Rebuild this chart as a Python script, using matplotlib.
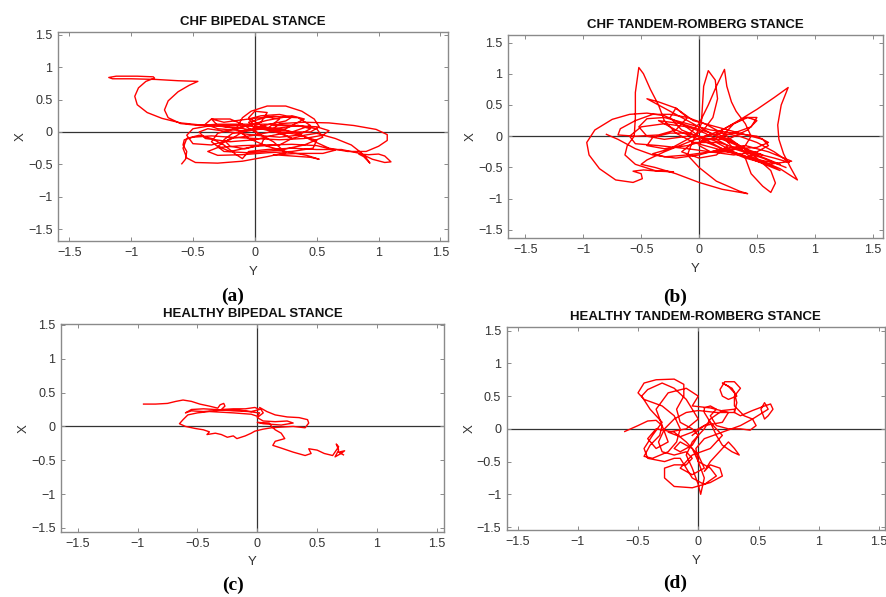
import numpy as np
import matplotlib
matplotlib.use("Agg")
import matplotlib.pyplot as plt

RED = "#ff0000"
BOX = "#8a8a8a"
TXT = "#333333"

titles = [
    "CHF BIPEDAL STANCE",
    "CHF TANDEM-ROMBERG STANCE",
    "HEALTHY BIPEDAL STANCE",
    "HEALTHY TANDEM-ROMBERG STANCE",
]
letters = ["a", "b", "c", "d"]
ticks = [-1.5, -1, -0.5, 0, 0.5, 1, 1.5]
tick_labels = ["\u22121.5", "\u22121", "\u22120.5", "0", "0.5", "1", "1.5"]

# stabilogram paths, columns: Y (horizontal), X (vertical)
chf_bipedal = np.array([
    [-0.59, -0.49], [-0.56, -0.42], [-0.55, -0.3], [-0.58, -0.2], [-0.57, -0.12],
    [-0.5, -0.08], [-0.35, -0.06], [-0.2, -0.08], [0.0, -0.1], [0.2, -0.12],
    [0.4, -0.1], [0.55, -0.05], [0.6, 0.02], [0.5, 0.08], [0.3, 0.1],
    [0.1, 0.12], [-0.1, 0.12], [-0.3, 0.12], [-0.45, 0.1], [-0.6, 0.13],
    [-0.7, 0.22], [-0.73, 0.34], [-0.7, 0.48], [-0.62, 0.62], [-0.53, 0.72],
    [-0.46, 0.78], [-0.62, 0.79], [-0.8, 0.81], [-1.0, 0.82], [-1.15, 0.82],
    [-1.18, 0.84], [-1.12, 0.86], [-0.95, 0.86], [-0.82, 0.85], [-0.81, 0.83],
    [-0.88, 0.78], [-0.94, 0.68], [-0.97, 0.55], [-0.95, 0.42], [-0.87, 0.3],
    [-0.75, 0.21], [-0.6, 0.14], [-0.45, 0.11], [-0.3, 0.09], [-0.15, 0.07],
    [0.0, 0.02], [0.08, -0.08], [0.05, -0.2], [-0.08, -0.26], [-0.2, -0.22],
    [-0.25, -0.12], [-0.18, -0.02], [-0.02, 0.05], [0.12, 0.12], [0.25, 0.17],
    [0.3, 0.23], [0.2, 0.27], [0.05, 0.25], [-0.05, 0.2], [0.0, 0.1],
    [0.15, 0.02], [0.35, -0.04], [0.5, -0.13], [0.47, -0.25], [0.3, -0.3],
    [0.1, -0.32], [-0.1, -0.35], [-0.3, -0.36], [-0.38, -0.3], [-0.3, -0.24],
    [-0.1, -0.21], [0.1, -0.2], [0.3, -0.19], [0.5, -0.21], [0.65, -0.28],
    [0.55, -0.33], [0.35, -0.33], [0.15, -0.35], [0.3, -0.37], [0.45, -0.39],
    [0.52, -0.42], [0.42, -0.36], [0.25, -0.3], [0.1, -0.22], [-0.05, -0.1],
    [-0.15, 0.05], [-0.1, 0.22], [-0.03, 0.32], [0.1, 0.4], [0.25, 0.4],
    [0.38, 0.32], [0.48, 0.2], [0.52, 0.08], [0.45, 0.0], [0.3, 0.0],
    [0.15, 0.05], [0.2, 0.13], [0.4, 0.15], [0.6, 0.14], [0.8, 0.1],
    [0.98, 0.04], [1.07, -0.04], [1.07, -0.13], [1.0, -0.22], [0.9, -0.3],
    [0.75, -0.3], [0.6, -0.25], [0.45, -0.12], [0.35, -0.02], [0.2, 0.05],
    [0.05, 0.08], [-0.15, 0.1], [-0.35, 0.1], [-0.5, 0.05], [-0.55, -0.05],
    [-0.5, -0.18], [-0.35, -0.2], [-0.2, -0.12], [-0.1, 0.0], [0.05, 0.05],
    [0.2, -0.02], [0.3, -0.1], [0.4, -0.05], [0.5, -0.02], [0.65, -0.1],
    [0.78, -0.2], [0.86, -0.32], [0.9, -0.4], [0.93, -0.48], [0.88, -0.38],
    [0.84, -0.34], [0.92, -0.35], [1.0, -0.34], [1.05, -0.37], [1.1, -0.46],
    [1.05, -0.47], [0.95, -0.42], [0.85, -0.33], [0.7, -0.27], [0.5, -0.27],
    [0.3, -0.25], [0.1, -0.27], [-0.05, -0.3], [-0.1, -0.41], [-0.15, -0.35],
    [-0.25, -0.2], [-0.35, -0.1], [-0.45, -0.05], [-0.55, -0.1], [-0.58, -0.25],
    [-0.55, -0.4], [-0.48, -0.47], [-0.3, -0.48], [-0.1, -0.45], [0.1, -0.38],
    [0.25, -0.32], [0.15, -0.15], [0.0, 0.0], [-0.1, 0.12], [-0.2, 0.2],
    [-0.35, 0.2], [-0.4, 0.12], [-0.3, 0.05], [-0.1, 0.02], [0.1, 0.05],
    [0.2, 0.2], [0.1, 0.23], [-0.05, 0.15], [0.0, 0.05], [0.15, 0.05],
    [0.35, 0.1], [0.45, 0.05], [0.35, -0.05], [0.2, -0.08], [0.0, -0.05],
    [-0.2, 0.0], [-0.38, 0.05], [-0.45, 0.0], [-0.4, -0.1], [-0.2, -0.15],
    [0.0, -0.12], [0.15, -0.05], [0.3, 0.0], [0.45, 0.1], [0.35, 0.22],
    [0.15, 0.24], [-0.05, 0.2], [-0.25, 0.15], [-0.35, 0.2], [-0.3, 0.1],
    [-0.15, 0.05], [0.05, 0.15], [0.1, 0.3], [0.0, 0.32], [-0.05, 0.22],
    [0.05, 0.1], [0.2, 0.0], [0.3, -0.1], [0.2, -0.2], [0.0, -0.22],
    [-0.2, -0.3], [-0.3, -0.22], [-0.2, -0.1], [0.0, -0.05], [0.25, 0.05],
    [0.4, 0.2], [0.3, 0.25], [0.1, 0.18], [-0.1, 0.08], [-0.3, -0.02],
    [-0.35, -0.15], [-0.25, -0.3], [-0.05, -0.32], [0.2, -0.28], [0.4, -0.2],
    [0.55, -0.08], [0.5, 0.05], [0.35, 0.1], [0.15, 0.1],
])

chf_tandem = np.array([
    [-0.8, 0.03], [-0.7, -0.05], [-0.55, -0.2], [-0.4, -0.3], [-0.2, -0.35],
    [0.0, -0.3], [0.2, -0.2], [0.4, -0.15], [0.6, -0.25], [0.8, -0.4],
    [0.6, -0.45], [0.4, -0.35], [0.2, -0.2], [0.0, 0.0], [-0.15, 0.2],
    [-0.3, 0.33], [-0.45, 0.37], [-0.6, 0.35], [-0.75, 0.27], [-0.9, 0.1],
    [-0.97, -0.1], [-0.95, -0.3], [-0.86, -0.52], [-0.72, -0.7], [-0.57, -0.74],
    [-0.49, -0.68], [-0.5, -0.6], [-0.57, -0.56], [-0.48, -0.54], [-0.35, -0.56],
    [-0.22, -0.57], [-0.38, -0.55], [-0.55, -0.45], [-0.64, -0.3], [-0.62, -0.15],
    [-0.56, 0.0], [-0.55, 0.3], [-0.55, 0.7], [-0.52, 1.1], [-0.48, 1.0],
    [-0.42, 0.75], [-0.35, 0.5], [-0.3, 0.25], [-0.2, 0.05], [-0.05, -0.1],
    [0.15, -0.2], [0.35, -0.3], [0.55, -0.4], [0.7, -0.52], [0.85, -0.7],
    [0.79, -0.5], [0.73, -0.28], [0.69, -0.05], [0.68, 0.18], [0.71, 0.5],
    [0.77, 0.78], [0.65, 0.62], [0.5, 0.43], [0.35, 0.26], [0.2, 0.1],
    [0.05, 0.0], [-0.1, -0.1], [-0.3, -0.25], [-0.45, -0.38], [-0.5, -0.45],
    [-0.38, -0.5], [-0.2, -0.6], [0.0, -0.74], [0.2, -0.85], [0.42, -0.92],
    [0.35, -0.88], [0.15, -0.72], [0.0, -0.5], [-0.1, -0.3], [-0.06, -0.1],
    [0.02, 0.2], [0.03, 0.5], [0.04, 0.8], [0.08, 1.05], [0.14, 0.9],
    [0.16, 0.6], [0.12, 0.3], [0.04, 0.1], [-0.1, -0.05], [-0.25, -0.2],
    [-0.4, -0.28], [-0.3, -0.33], [-0.1, -0.3], [0.1, -0.25], [0.3, -0.2],
    [0.5, -0.18], [0.6, -0.1], [0.5, 0.0], [0.3, 0.05], [0.1, 0.1],
    [-0.1, 0.2], [-0.3, 0.3], [-0.45, 0.28], [-0.52, 0.15], [-0.45, 0.0],
    [-0.3, -0.05], [-0.1, 0.0], [0.0, 0.2], [0.08, 0.5], [0.15, 0.8],
    [0.22, 1.07], [0.24, 0.8], [0.28, 0.55], [0.32, 0.4], [0.4, 0.2],
    [0.45, 0.0], [0.4, -0.15], [0.25, -0.25], [0.1, -0.25], [0.0, -0.15],
    [0.05, 0.0], [0.2, 0.05], [0.35, 0.0], [0.5, -0.1], [0.65, -0.25],
    [0.78, -0.42], [0.65, -0.35], [0.5, -0.28], [0.4, -0.35], [0.45, -0.6],
    [0.55, -0.8], [0.62, -0.9], [0.66, -0.75], [0.62, -0.55], [0.5, -0.35],
    [0.35, -0.15], [0.2, 0.05], [0.05, 0.2], [-0.1, 0.3], [-0.25, 0.35],
    [-0.4, 0.35], [-0.55, 0.25], [-0.68, 0.12], [-0.7, 0.02], [-0.55, 0.0],
    [-0.35, 0.02], [-0.2, 0.1], [-0.1, 0.3], [-0.2, 0.45], [-0.35, 0.55],
    [-0.45, 0.6], [-0.35, 0.5], [-0.2, 0.35], [0.0, 0.15], [0.2, -0.05],
    [0.4, -0.2], [0.55, -0.3], [0.45, -0.25], [0.3, -0.1], [0.15, 0.05],
    [0.25, 0.15], [0.4, 0.3], [0.5, 0.3], [0.45, 0.15], [0.3, 0.05],
    [0.1, -0.05], [-0.1, -0.15], [-0.3, -0.2], [-0.45, -0.15], [-0.4, -0.02],
    [-0.25, 0.05], [-0.1, 0.05], [0.1, -0.05], [0.25, -0.15], [0.15, -0.3],
    [0.0, -0.35], [-0.15, -0.25], [-0.05, -0.1], [0.15, -0.1], [0.3, -0.25],
    [0.5, -0.4], [0.7, -0.55], [0.6, -0.45], [0.42, -0.3], [0.3, -0.1],
    [0.1, 0.05], [-0.15, 0.2], [-0.35, 0.25], [-0.2, 0.1], [0.0, -0.05],
    [0.2, -0.2], [0.45, -0.35], [0.7, -0.45], [0.5, -0.3], [0.25, -0.15],
    [0.05, 0.05], [-0.1, 0.15], [-0.3, 0.2], [-0.5, 0.15], [-0.6, 0.0],
    [-0.55, -0.12], [-0.35, -0.15], [-0.1, -0.2], [0.1, -0.25], [0.3, -0.3],
    [0.5, -0.25], [0.6, -0.15], [0.55, -0.05], [0.35, 0.05], [0.15, 0.15],
    [-0.05, 0.25], [-0.2, 0.45], [-0.25, 0.3], [-0.15, 0.1], [0.05, -0.05],
    [0.25, -0.05], [0.42, 0.1], [0.5, 0.25], [0.42, 0.3], [0.3, 0.2],
    [0.2, 0.0], [0.3, -0.2], [0.55, -0.35], [0.75, -0.5],
])

healthy_bipedal = np.array([
    [-0.95, 0.33], [-0.85, 0.33], [-0.75, 0.34], [-0.68, 0.37], [-0.62, 0.39],
    [-0.55, 0.37], [-0.48, 0.33], [-0.4, 0.3], [-0.33, 0.27], [-0.31, 0.32],
    [-0.28, 0.34], [-0.27, 0.3], [-0.3, 0.25], [-0.2, 0.26], [-0.1, 0.26],
    [-0.02, 0.28], [0.02, 0.25], [-0.05, 0.22], [-0.15, 0.24], [-0.3, 0.24],
    [-0.45, 0.22], [-0.55, 0.23], [-0.6, 0.2], [-0.55, 0.25], [-0.45, 0.26],
    [-0.35, 0.25], [-0.2, 0.23], [-0.08, 0.22], [0.02, 0.2], [0.0, 0.15],
    [-0.05, 0.18], [-0.2, 0.2], [-0.4, 0.22], [-0.5, 0.2], [-0.58, 0.17],
    [-0.62, 0.1], [-0.65, 0.04], [-0.6, 0.0], [-0.52, -0.03], [-0.45, -0.05],
    [-0.4, -0.08], [-0.42, -0.12], [-0.35, -0.1], [-0.3, -0.12], [-0.25, -0.16],
    [-0.2, -0.14], [-0.17, -0.18], [-0.1, -0.14], [-0.05, -0.1], [-0.02, -0.07],
    [0.05, -0.04], [0.12, -0.02], [0.2, -0.01], [0.3, 0.0], [0.4, -0.02],
    [0.43, 0.05], [0.42, 0.1], [0.35, 0.13], [0.25, 0.14], [0.15, 0.17],
    [0.08, 0.22], [0.02, 0.28], [0.05, 0.2], [0.0, 0.13], [0.05, 0.08],
    [0.15, 0.07], [0.25, 0.08], [0.3, 0.05], [0.2, 0.02], [0.05, 0.04],
    [0.0, 0.06], [0.1, 0.05], [0.12, 0.0], [0.15, -0.05], [0.2, -0.1],
    [0.23, -0.18], [0.15, -0.22], [0.13, -0.28], [0.2, -0.32], [0.3, -0.38],
    [0.4, -0.43], [0.45, -0.4], [0.43, -0.33], [0.5, -0.35], [0.56, -0.4],
    [0.63, -0.43], [0.68, -0.3], [0.66, -0.26], [0.68, -0.35], [0.65, -0.45],
    [0.7, -0.4], [0.73, -0.36], [0.68, -0.38], [0.72, -0.42],
])

healthy_tandem = np.array([
    [-0.61, -0.04], [-0.5, 0.05], [-0.42, 0.12], [-0.35, 0.13], [-0.3, 0.05],
    [-0.32, -0.1], [-0.4, -0.25], [-0.45, -0.42], [-0.38, -0.45], [-0.25, -0.35],
    [-0.18, -0.2], [-0.15, 0.0], [-0.2, 0.2], [-0.3, 0.35], [-0.45, 0.45],
    [-0.5, 0.55], [-0.45, 0.7], [-0.35, 0.75], [-0.2, 0.76], [-0.12, 0.68],
    [-0.12, 0.5], [-0.18, 0.3], [-0.15, 0.1], [-0.05, 0.0], [0.0, -0.1],
    [-0.05, -0.25], [-0.15, -0.35], [-0.2, -0.3], [-0.15, -0.2], [-0.05, -0.3],
    [0.0, -0.5], [0.05, -0.75], [0.02, -1.0], [0.0, -0.85], [-0.05, -0.6],
    [-0.1, -0.4], [-0.05, -0.2], [0.05, 0.0], [0.1, 0.15], [0.2, 0.28],
    [0.3, 0.3], [0.3, 0.25], [0.15, 0.25], [0.0, 0.28], [-0.1, 0.25],
    [-0.2, 0.15], [-0.28, 0.0], [-0.33, -0.2], [-0.3, -0.35], [-0.2, -0.4],
    [-0.1, -0.35], [-0.05, -0.45], [-0.1, -0.55], [-0.2, -0.55], [-0.28, -0.6],
    [-0.28, -0.75], [-0.2, -0.88], [-0.05, -0.9], [0.1, -0.82], [0.2, -0.72],
    [0.18, -0.6], [0.1, -0.55], [0.05, -0.65], [0.1, -0.5], [0.2, -0.3],
    [0.25, -0.2], [0.3, -0.3], [0.34, -0.4], [0.28, -0.35], [0.2, -0.25],
    [0.15, -0.1], [0.1, 0.1], [0.05, 0.25], [0.05, 0.32], [0.1, 0.35],
    [0.15, 0.3], [0.1, 0.2], [0.15, 0.05], [0.25, 0.0], [0.35, 0.0],
    [0.43, -0.02], [0.48, 0.05], [0.45, 0.15], [0.38, 0.2], [0.3, 0.35],
    [0.3, 0.5], [0.35, 0.62], [0.3, 0.72], [0.22, 0.72], [0.18, 0.6],
    [0.2, 0.5], [0.25, 0.45], [0.32, 0.5], [0.28, 0.62], [0.2, 0.7],
    [0.25, 0.65], [0.3, 0.55], [0.32, 0.4], [0.3, 0.25], [0.35, 0.2],
    [0.45, 0.28], [0.55, 0.35], [0.6, 0.38], [0.62, 0.3], [0.58, 0.2],
    [0.55, 0.15], [0.52, 0.3], [0.55, 0.4], [0.58, 0.3], [0.45, 0.15],
    [0.35, 0.05], [0.2, -0.05], [0.05, -0.15], [-0.02, -0.3], [0.0, -0.5],
    [0.1, -0.6], [0.15, -0.72], [0.05, -0.85], [-0.05, -0.75], [-0.1, -0.6],
    [-0.15, -0.45], [-0.2, -0.45], [-0.28, -0.5], [-0.42, -0.45], [-0.45, -0.3],
    [-0.38, -0.1], [-0.3, 0.1], [-0.4, 0.3], [-0.47, 0.5], [-0.42, 0.6],
    [-0.3, 0.7], [-0.2, 0.62], [-0.1, 0.45], [-0.05, 0.3], [0.0, 0.15],
    [-0.1, 0.0], [-0.25, -0.05], [-0.15, -0.12], [-0.05, -0.05], [0.0, 0.0],
    [0.1, 0.1], [0.2, -0.1], [0.1, -0.3], [-0.05, -0.4], [-0.15, -0.6],
    [-0.05, -0.7], [0.05, -0.6], [0.0, -0.4], [-0.1, -0.2], [-0.2, -0.05],
    [-0.35, 0.0], [-0.42, -0.15], [-0.35, -0.3], [-0.25, -0.2], [-0.3, 0.05],
    [-0.35, 0.3], [-0.25, 0.55], [-0.1, 0.62], [0.0, 0.5], [-0.05, 0.35],
    [0.1, 0.32], [0.25, 0.25], [0.2, 0.1], [0.05, 0.05], [-0.05, -0.1],
])

paths = [chf_bipedal, chf_tandem, healthy_bipedal, healthy_tandem]

# axes boxes in figure fractions and their limits
rects = [
    [0.0655, 0.5963, 0.440, 0.350],
    [0.5734, 0.6013, 0.4233, 0.340],
    [0.0688, 0.1089, 0.4323, 0.348],
    [0.5719, 0.1117, 0.4270, 0.341],
]
xlims = [(-1.59, 1.56), (-1.65, 1.59), (-1.64, 1.56), (-1.59, 1.55)]
ylims = [(-1.68, 1.54), (-1.63, 1.62), (-1.56, 1.51), (-1.55, 1.56)]
letter_pos = [(233, 296), (675, 297), (233, 585), (675, 583)]

plt.rcParams["font.family"] = ["Liberation Sans", "DejaVu Sans"]

fig = plt.figure(figsize=(8.86, 5.97), dpi=100)

for i, path in enumerate(paths):
    ax = fig.add_axes(rects[i])
    ax.axhline(0, color="#333333", lw=0.9, zorder=1)
    ax.axvline(0, color="#333333", lw=0.9, zorder=1)
    ax.plot(path[:, 0], path[:, 1], color=RED, lw=1.0, zorder=3,
            solid_joinstyle="round")
    ax.set_xlim(*xlims[i])
    ax.set_ylim(*ylims[i])
    ax.set_xticks(ticks, tick_labels)
    ax.set_yticks(ticks, tick_labels)
    ax.tick_params(direction="in", length=3, width=0.7, color=BOX,
                   labelsize=9, labelcolor=TXT, top=True, right=True, pad=4)
    for s in ax.spines.values():
        s.set_color(BOX)
        s.set_linewidth(1.0)
    ax.set_title(titles[i], fontsize=9.5, fontweight="bold", color="#111111", pad=5)
    ax.set_xlabel("Y", fontsize=9.5, color=TXT, labelpad=5)
    ax.set_ylabel("X", fontsize=9.5, color=TXT, labelpad=1)

    lx, ly = letter_pos[i]
    fig.text(lx / 886, 1 - ly / 597, f"({letters[i]})", ha="center", va="center",
             fontsize=14, fontweight="bold", family=["Liberation Serif", "DejaVu Serif"])

fig.savefig("out.png", dpi=100)
